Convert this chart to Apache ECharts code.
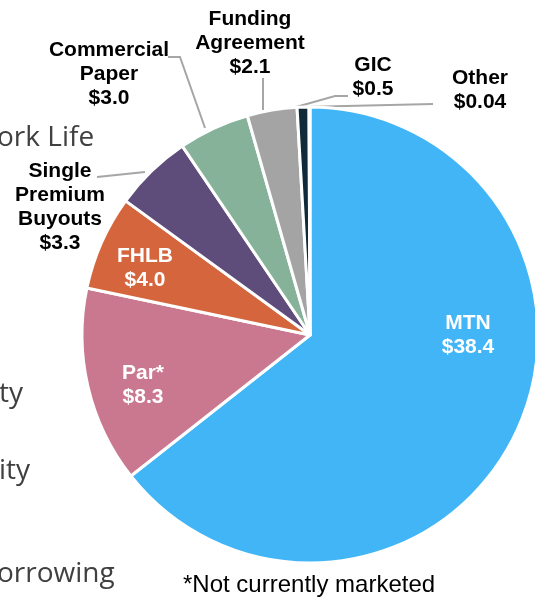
<!DOCTYPE html>
<html>
<head>
<meta charset="utf-8">
<script src="https://cdn.jsdelivr.net/npm/echarts@6/dist/echarts.min.js"></script>
<style>
  html, body { margin: 0; padding: 0; background: #fff; }
  #main { width: 535px; height: 600px; }
</style>
</head>
<body>
<div id="main"></div>
<script>
// funding sources, $bn
var names = ['MTN', 'Par*', 'FHLB', 'Single\nPremium\nBuyouts', 'Commercial\nPaper', 'Funding\nAgreement', 'GIC', 'Other'];
var values = [38.4, 8.3, 4.0, 3.3, 3.0, 2.1, 0.5, 0.04];
var colors = ['#42B5F6', '#C9788F', '#D4653D', '#5E4C7A', '#86B29A', '#A3A4A3', '#0F2A38', '#BFBFBF'];

// label placement (centre of text) and leader lines
var labelPos = [
  [468, 335], [143, 385], [145, 268], [60, 207],
  [109, 74], [250, 43], [373, 77], [480, 90]
];
var leaders = [
  null, null, null,
  [[145, 172], [97, 177]],
  [[205, 128], [180, 57], [168, 57]],
  [[263, 110], [263, 78]],
  [[296, 107], [335, 96], [348, 96]],
  [[302, 107], [433, 104]]
];

var myChart = echarts.init(document.getElementById('main'));

var data = [];
for (var i = 0; i < names.length; i++) {
  var inside = i < 3;
  data.push({
    name: names[i],
    value: values[i],
    itemStyle: { color: colors[i] },
    label: {
      position: inside ? 'inside' : 'outside',
      color: inside ? '#fff' : '#000'
    },
    labelLine: { show: !inside }
  });
}

var bgFont = '28px "Open Sans"';
var option = {
  animation: false,
  graphic: [
    { type: 'text', left: -3, top: 124, style: { text: 'ork Life', font: bgFont, fill: '#404040' } },
    { type: 'text', left: -1, top: 380, style: { text: 'ty', font: bgFont, fill: '#404040' } },
    { type: 'text', left: -1, top: 457, style: { text: 'ity', font: bgFont, fill: '#404040' } },
    { type: 'text', left: -3, top: 560, style: { text: 'orrowing', font: bgFont, fill: '#404040' } },
    { type: 'text', left: 183, top: 573, style: { text: '*Not currently marketed', font: '24px "Liberation Sans"', fill: '#000' } }
  ],
  series: [{
    type: 'pie',
    center: [310, 335],
    radius: 228,
    startAngle: 90,
    clockwise: true,
    avoidLabelOverlap: false,
    itemStyle: { borderColor: '#fff', borderWidth: 3 },
    label: {
      fontFamily: 'Liberation Sans',
      fontWeight: 'bold',
      fontSize: 21,
      lineHeight: 24,
      align: 'center',
      formatter: function (p) {
        var v = p.value < 0.1 ? p.value.toFixed(2) : p.value.toFixed(1);
        return p.name + '\n$' + v;
      }
    },
    labelLine: { lineStyle: { color: '#A6A6A6', width: 2 } },
    labelLayout: function (params) {
      var i = params.dataIndex;
      var res = {
        x: labelPos[i][0],
        y: labelPos[i][1],
        align: 'center',
        verticalAlign: 'middle'
      };
      if (leaders[i]) res.labelLinePoints = leaders[i];
      return res;
    },
    data: data
  }]
};

myChart.setOption(option);
</script>
</body>
</html>
